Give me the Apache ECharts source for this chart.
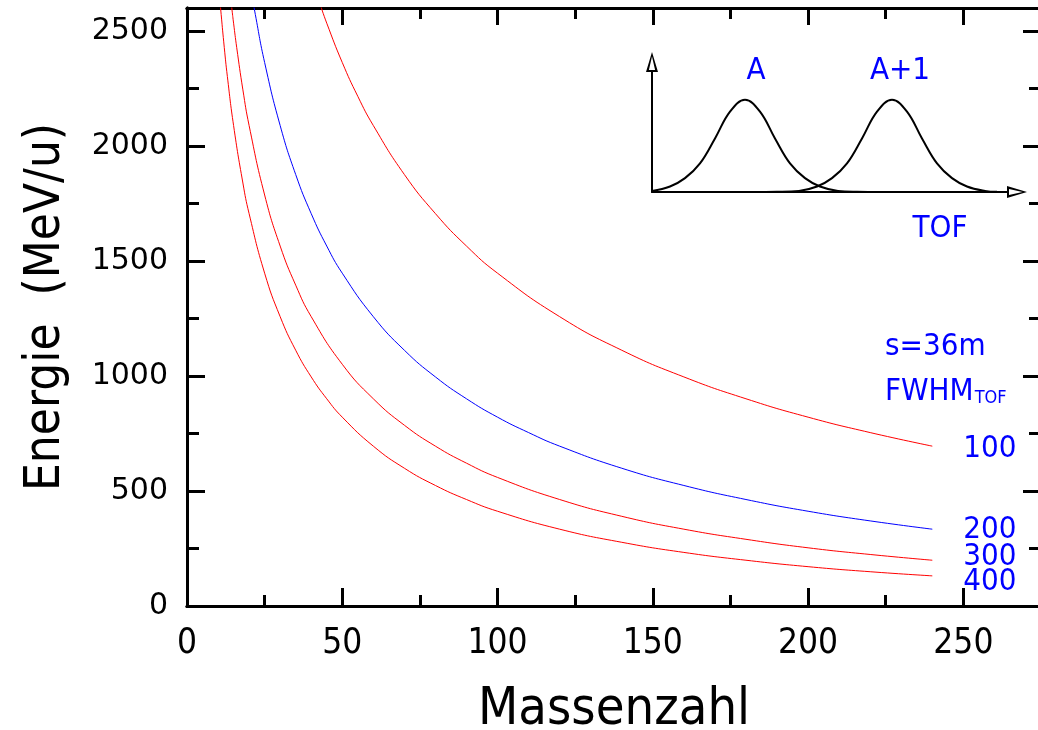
<!DOCTYPE html>
<html>
<head>
<meta charset="utf-8">
<script src="https://cdn.jsdelivr.net/npm/echarts@6/dist/echarts.min.js"></script>
<style>
  html, body { margin: 0; padding: 0; background: #ffffff; }
  #chart { width: 1038px; height: 730px; }
</style>
</head>
<body>
<div id="chart"></div>
<script>
// Energy per nucleon needed to separate A and A+1 by time of flight (s = 36 m)
// for several timing resolutions (FWHM of the TOF peak).

// [Massenzahl, Energie (MeV/u)] pairs for each FWHM value
const curveFwhm100 = [[43, 2611], [45, 2534], [50, 2363], [55, 2216], [60, 2089], [70, 1876], [80, 1706], [90, 1565], [100, 1447], [120, 1258], [140, 1112], [160, 996], [180, 901], [200, 821], [220, 754], [240, 695]];
const curveFwhm200 = [[21, 2651], [22, 2572], [25, 2363], [30, 2089], [35, 1876], [40, 1706], [45, 1565], [50, 1447], [60, 1258], [70, 1112], [80, 996], [90, 901], [100, 821], [110, 754], [120, 695], [140, 599], [160, 524], [180, 463], [200, 412], [220, 370], [240, 334]];
const curveFwhm300 = [[14, 2651], [14.5, 2591], [15, 2534], [16, 2429], [18, 2244], [20, 2089], [25, 1787], [30, 1565], [35, 1395], [40, 1258], [50, 1051], [60, 901], [70, 786], [80, 695], [90, 621], [100, 559], [120, 463], [140, 390], [160, 334], [180, 290], [200, 253], [220, 224], [240, 199]];
const curveFwhm400 = [[10.5, 2651], [11, 2572], [12, 2429], [13, 2302], [15, 2089], [18, 1839], [20, 1706], [25, 1447], [30, 1258], [35, 1112], [40, 996], [45, 901], [50, 821], [60, 695], [70, 599], [80, 524], [90, 463], [100, 412], [120, 334], [140, 277], [160, 233], [180, 199], [200, 171], [220, 149], [240, 131]];

const fwhmLabels = ['100', '200', '300', '400'];
const curveData = [curveFwhm100, curveFwhm200, curveFwhm300, curveFwhm400];
const curveColors = ['#ff0000', '#0000ff', '#ff0000', '#ff0000'];
const labelShiftY = [3, 1, -3, 6];

// Axis ranges and ticks
const xMax = 275, xMajor = 50, xMinor = 25;
const yMax = 2600, yMajor = 500, yMinor = 250;

// Sketch of two neighbouring TOF peaks (A and A+1), in arbitrary units
const peakA = [[0, 0.012], [18, 0.06], [33, 0.15], [48, 0.31], [63, 0.58], [78, 0.87], [93, 1], [108, 0.87], [123, 0.58], [138, 0.31], [153, 0.15], [168, 0.06], [186, 0.012], [205, 0.002], [230, 0]];
const peakA1 = [[100, 0], [125, 0.002], [147, 0.012], [165, 0.06], [180, 0.15], [195, 0.31], [210, 0.58], [225, 0.87], [240, 1], [255, 0.87], [270, 0.58], [285, 0.31], [300, 0.15], [315, 0.06], [333, 0.012], [345, 0.002]];

const narrowFont = '"DejaVu Sans Condensed", "Liberation Sans Narrow", sans-serif';
const blue = '#0000ff';
const black = '#000000';

function multipleOf(step) {
  return function (v) { return (Math.round(v) % step === 0) ? String(Math.round(v)) : ''; };
}

const openArrow = 'path://M6,0 L12,20 L0,20 Z M6,4.5 L2.9,18 L9.1,18 Z';

function frameAxis(dim, position, interval, tickLen, extra) {
  const base = {
    type: 'value',
    gridIndex: 0,
    position: position,
    min: 0,
    max: dim === 'x' ? xMax : yMax,
    interval: interval,
    axisLine: { show: true, onZero: false, lineStyle: { color: black, width: 3 } },
    axisTick: { show: true, inside: true, length: tickLen, lineStyle: { color: black, width: 3 } },
    axisLabel: { show: false },
    splitLine: { show: false }
  };
  return Object.assign(base, extra || {});
}

const xAxes = [
  frameAxis('x', 'bottom', xMajor, 18, {
    axisLabel: {
      show: true, formatter: multipleOf(xMajor), color: black,
      fontFamily: narrowFont, fontSize: 35, margin: 20
    },
    name: 'Massenzahl', nameLocation: 'middle', nameGap: 78,
    nameTextStyle: { color: black, fontFamily: narrowFont, fontSize: 52 }
  }),
  frameAxis('x', 'bottom', xMinor, 11),
  frameAxis('x', 'top', xMajor, 17),
  frameAxis('x', 'top', xMinor, 11),
  {
    type: 'value', gridIndex: 1, min: 0, max: 355,
    axisLine: {
      show: true, onZero: false, symbol: ['none', openArrow],
      symbolSize: [12, 20], symbolOffset: [0, 10],
      lineStyle: { color: black, width: 2 }
    },
    axisTick: { show: false }, axisLabel: { show: false }, splitLine: { show: false }
  }
];

const yAxes = [
  frameAxis('y', 'left', yMajor, 18, {
    axisLabel: {
      show: true, formatter: multipleOf(yMajor), color: black,
      fontFamily: '"DejaVu Sans", sans-serif', fontSize: 30, margin: 19
    },
    name: 'Energie  (MeV/u)', nameLocation: 'middle', nameGap: 116,
    nameTextStyle: { color: black, fontFamily: narrowFont, fontSize: 49 }
  }),
  frameAxis('y', 'left', yMinor, 12),
  frameAxis('y', 'right', yMajor, 18),
  frameAxis('y', 'right', yMinor, 12),
  {
    type: 'value', gridIndex: 1, min: 0, max: 1.3,
    axisLine: {
      show: true, onZero: false, symbol: ['none', openArrow],
      symbolSize: [12, 20], symbolOffset: [0, 10],
      lineStyle: { color: black, width: 2 }
    },
    axisTick: { show: false }, axisLabel: { show: false }, splitLine: { show: false }
  }
];

const curveSeries = curveData.map(function (data, i) {
  return {
    type: 'line',
    xAxisIndex: 0,
    yAxisIndex: 0,
    data: data,
    showSymbol: false,
    symbol: 'none',
    smooth: 0.5,
    clip: true,
    lineStyle: { color: curveColors[i], width: 1 },
    endLabel: {
      show: true,
      formatter: fwhmLabels[i],
      color: blue,
      fontFamily: narrowFont,
      fontSize: 31,
      distance: 31,
      offset: [0, labelShiftY[i]]
    },
    silent: true
  };
});

const peakSeries = [peakA, peakA1].map(function (data) {
  return {
    type: 'line',
    xAxisIndex: 4,
    yAxisIndex: 4,
    data: data,
    showSymbol: false,
    symbol: 'none',
    smooth: 0.4,
    clip: true,
    lineStyle: { color: black, width: 2 },
    silent: true
  };
});

function blueText(x, y, text, size, align) {
  return {
    type: 'text', x: x, y: y, silent: true,
    style: {
      text: text, fill: blue, fontFamily: narrowFont,
      fontSize: size, align: align || 'center', verticalAlign: 'middle'
    }
  };
}

const chart = echarts.init(document.getElementById('chart'), null, { renderer: 'canvas' });
chart.setOption({
  animation: false,
  backgroundColor: '#ffffff',
  grid: [
    { left: 187, top: 8, right: -3, bottom: 124, outerBoundsMode: 'none' },
    { left: 652, top: 72, width: 355, height: 120, outerBoundsMode: 'none' }
  ],
  xAxis: xAxes,
  yAxis: yAxes,
  series: curveSeries.concat(peakSeries),
  graphic: [
    blueText(756, 71, 'A', 31),
    blueText(900, 71, 'A+1', 31),
    blueText(940, 229, 'TOF', 31),
    blueText(885, 347, 's=36m', 31, 'left'),
    {
      type: 'text', x: 885, y: 392, silent: true,
      style: {
        text: '{a|FWHM}{b|TOF}',
        fill: blue, fontFamily: narrowFont,
        verticalAlign: 'middle', align: 'left',
        rich: {
          a: { fontSize: 31, lineHeight: 31, fill: blue, fontFamily: narrowFont, verticalAlign: 'bottom' },
          b: { fontSize: 18, lineHeight: 18, fill: blue, fontFamily: narrowFont, verticalAlign: 'bottom', padding: [0, 0, 0, 1] }
        }
      }
    }
  ]
});
</script>
</body>
</html>
